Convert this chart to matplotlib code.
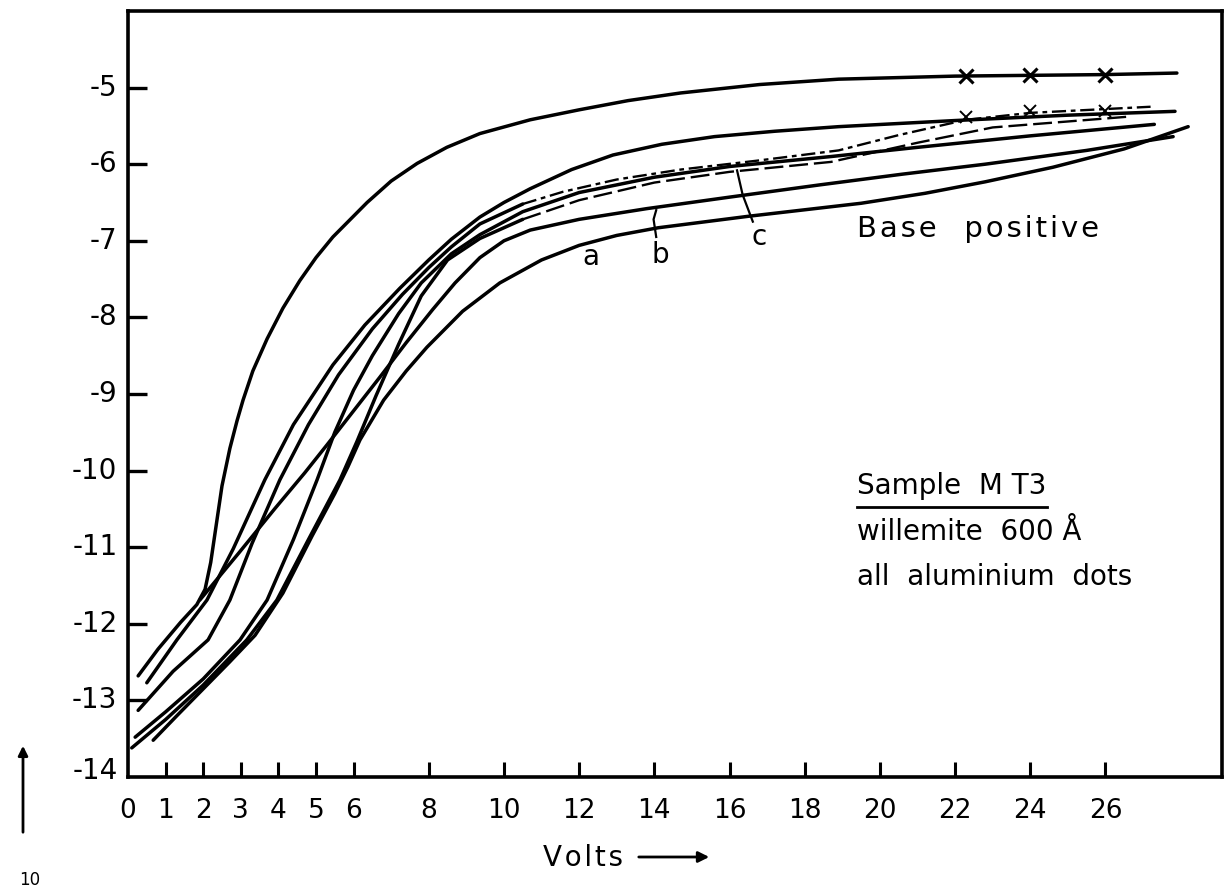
import numpy as np
import matplotlib
matplotlib.use("Agg")
import matplotlib.pyplot as plt
from matplotlib.lines import Line2D
from matplotlib.patches import FancyArrowPatch

# ---------------- data ----------------
x_ticks = [1, 2, 3, 4, 5, 6, 8, 10, 12, 14, 16, 18, 20, 22, 24, 26]
x_label_pos = [0, 1, 2, 3, 4, 5, 6, 8, 10, 12, 14, 16, 18, 20, 22, 24, 26]
x_labels = ["0", "1", "2", "3", "4", "5", "6", "8", "10", "12", "14", "16", "18", "20", "22", "24", "26"]
y_ticks = [-5, -6, -7, -8, -9, -10, -11, -12, -13, -14]
y_labels = ["-5", "-6", "-7", "-8", "-9", "-10", "-11", "-12", "-13", "-14"]

# curve A (top, crosses at 22, 24, 26)
A_x = [0.27, 0.8, 1.4, 1.83, 2.05, 2.2, 2.35, 2.5, 2.71, 2.9, 3.06, 3.32, 3.7, 4.12, 4.57, 5.0, 5.45,
       6.36, 7.0, 7.69, 8.48, 9.36, 10.7, 12.0, 13.3, 14.7, 16.8, 18.9, 22.0, 24.0, 26.0, 27.9]
A_y = [-12.68, -12.33, -11.98, -11.75, -11.55, -11.2, -10.7, -10.2, -9.71, -9.35, -9.08, -8.7, -8.28,
       -7.88, -7.52, -7.22, -6.95, -6.5, -6.22, -5.99, -5.78, -5.6, -5.42, -5.29, -5.17, -5.07, -4.96,
       -4.89, -4.85, -4.84, -4.83, -4.81]
A_mark_x = [22.3, 24.0, 26.0]
A_mark_y = [-4.85, -4.84, -4.83]

B_x = [0.5, 1.3, 2.1, 2.8, 3.64, 4.4, 5.45, 6.3, 7.23, 8.0, 8.6, 9.36, 10.0, 10.7, 11.8, 12.9, 14.2, 15.6,
       17.2, 18.9, 22.0, 25.0, 27.85]
B_y = [-12.77, -12.21, -11.69, -11.02, -10.12, -9.4, -8.62, -8.1, -7.62, -7.25, -6.98, -6.69, -6.5, -6.32,
       -6.07, -5.88, -5.74, -5.64, -5.57, -5.51, -5.43, -5.36, -5.31]

C_x = [0.27, 1.2, 2.13, 2.71, 3.3, 4.04, 4.8, 5.6, 6.5, 7.3, 8.0, 8.6, 9.36, 10.5, 11.57, 13.0, 14.7,
       16.8, 18.9, 20.5, 22.3, 24.0, 26.0, 27.2]
C_y = [-13.13, -12.62, -12.21, -11.69, -10.95, -10.12, -9.4, -8.75, -8.15, -7.7, -7.35, -7.08, -6.78,
       -6.52, -6.36, -6.2, -6.07, -5.95, -5.82, -5.62, -5.42, -5.33, -5.28, -5.25]
C_mark_x = [22.3, 24.0, 26.0]
C_mark_y = [-5.38, -5.31, -5.3]

D_x = [0.19, 1.0, 2.0, 2.98, 3.7, 4.4, 5.03, 5.5, 6.0, 6.5, 7.2, 7.8, 8.6, 9.36, 10.5, 12.0, 14.0, 16.0,
       18.7, 21.0, 24.0, 27.3]
D_y = [-13.48, -13.15, -12.72, -12.21, -11.69, -10.9, -10.12, -9.5, -8.95, -8.5, -7.95, -7.55, -7.17,
       -6.92, -6.62, -6.37, -6.17, -6.03, -5.9, -5.78, -5.63, -5.48]

G_x = [0.1, 1.0, 2.0, 3.16, 3.96, 4.8, 5.64, 6.09, 6.6, 7.2, 7.8, 8.5, 9.36, 10.5, 12.0, 14.0, 16.0,
       18.7, 21.0, 23.0, 26.6]
G_y = [-13.62, -13.25, -12.8, -12.21, -11.69, -10.9, -10.12, -9.62, -9.02, -8.35, -7.72, -7.25, -6.97,
       -6.72, -6.47, -6.24, -6.1, -5.97, -5.72, -5.52, -5.38]

E_x = [1.91, 2.94, 3.9, 4.7, 5.3, 6.0, 6.7, 7.4, 8.1, 8.7, 9.36, 10.0, 10.7, 12.0, 13.8, 16.0, 18.4,
       20.6, 22.8, 25.5, 27.8]
E_y = [-11.69, -11.08, -10.5, -10.03, -9.66, -9.22, -8.78, -8.33, -7.9, -7.55, -7.22, -7.0, -6.86,
       -6.72, -6.58, -6.43, -6.27, -6.13, -6.0, -5.82, -5.64]

F_x = [0.67, 1.3, 2.0, 2.7, 3.38, 4.12, 4.9, 5.5, 5.85, 6.17, 6.8, 7.4, 7.95, 8.9, 9.89, 11.0, 12.0,
       13.0, 14.1, 16.5, 19.5, 21.2, 22.8, 24.6, 26.5, 28.2]
F_y = [-13.52, -13.2, -12.85, -12.5, -12.15, -11.6, -10.85, -10.3, -9.95, -9.6, -9.08, -8.7, -8.39,
       -7.92, -7.55, -7.25, -7.06, -6.93, -6.83, -6.68, -6.51, -6.38, -6.23, -6.04, -5.8, -5.51]

# ---------------- figure ----------------
plt.rcParams['font.family'] = ['DejaVu Sans']
W, H = 1232, 888
fig = plt.figure(figsize=(W / 100, H / 100), dpi=100)
ax = fig.add_axes([128 / W, 1 - 777 / H, (1222 - 128) / W, (777 - 11) / H])
ax.set_xlim(0, 29.1)
ax.set_ylim(-14, -4)

kw = dict(color="black", lw=2.5, solid_capstyle="round", solid_joinstyle="round")
for cx, cy in [(A_x, A_y), (B_x, B_y), (D_x, D_y), (E_x, E_y), (F_x, F_y)]:
    ax.plot(cx, cy, **kw)

# curves with broken (dashed) tails
split_C = 13
ax.plot(C_x[:split_C + 1], C_y[:split_C + 1], **kw)
ax.plot(C_x[split_C:], C_y[split_C:], color="black", lw=1.7, linestyle=(0, (6, 2, 2, 2)))
split_G = 13
ax.plot(G_x[:split_G + 1], G_y[:split_G + 1], **kw)
ax.plot(G_x[split_G:], G_y[split_G:], color="black", lw=1.7, linestyle=(0, (8, 2.5)))

ax.plot(A_mark_x, A_mark_y, linestyle="none", marker="x", ms=10, mew=2.2, color="black")
ax.plot(C_mark_x, C_mark_y, linestyle="none", marker="x", ms=8, mew=1.4, color="black")

# spines / ticks
for s in ax.spines.values():
    s.set_linewidth(2.6)
ax.set_xticks(x_ticks)
ax.set_xticklabels([])
ax.set_yticks(y_ticks[:-1])
ax.set_yticklabels([])
ax.tick_params(axis="x", direction="in", length=11, width=2.2)
ax.tick_params(axis="y", direction="in", length=14, width=2.4)

for xv, lab in zip(x_label_pos, x_labels):
    ax.text(xv, -14.45, lab, ha="center", va="center", fontsize=19, clip_on=False)
for yv, lab in zip(y_ticks, y_labels):
    ax.text(-0.28, yv + (0.08 if yv == -14 else 0), lab, ha="right", va="center", fontsize=20,
            clip_on=False)

hs = "\u200a"  # hair space used as letter spacing for the wide lettering
def spaced(s):
    return hs.join(s)

# annotations
ax.text(19.4, -6.95, spaced("Base") + "   " + spaced("positive"), fontsize=21, ha="left", va="baseline")
t1 = ax.text(19.4, -10.3, "Sample  M T3", fontsize=20, ha="left", va="baseline")
ax.text(19.4, -10.9, "willemite  600 Å", fontsize=20, ha="left", va="baseline")
ax.text(19.4, -11.5, "all  aluminium  dots", fontsize=20, ha="left", va="baseline")

ax.text(12.3, -7.21, "a", fontsize=20, ha="center", va="center")
ax.text(14.15, -7.19, "b", fontsize=20, ha="center", va="center")
ax.text(16.8, -6.95, "c", fontsize=20, ha="center", va="center")
ax.plot([14.05, 13.98, 14.05], [-6.6, -6.72, -6.95], color="black", lw=1.6)
ax.plot([16.2, 16.35, 16.62], [-6.08, -6.4, -6.75], color="black", lw=1.6)

# axis title and arrows
fig.text(583 / W, 1 - 858 / H, spaced("Volts"), fontsize=20, ha="center", va="center")
fig.add_artist(FancyArrowPatch((636 / W, 1 - 857 / H), (712 / W, 1 - 857 / H),
                               transform=fig.transFigure, arrowstyle="-|>",
                               mutation_scale=16, lw=2, color="black"))
fig.add_artist(FancyArrowPatch((23 / W, 1 - 835 / H), (23 / W, 1 - 743 / H),
                               transform=fig.transFigure, arrowstyle="-|>",
                               mutation_scale=14, lw=2, color="black"))
fig.text(30 / W, 1 - 880 / H, "10", fontsize=12, ha="center", va="center")

# underline of "Sample MT3"
fig.canvas.draw()
bb = t1.get_window_extent()
fig.add_artist(Line2D([bb.x0 / W, bb.x1 / W], [(bb.y0 - 7) / H, (bb.y0 - 7) / H],
                      transform=fig.transFigure, color="black", lw=2))

fig.savefig("out.png", dpi=100)
